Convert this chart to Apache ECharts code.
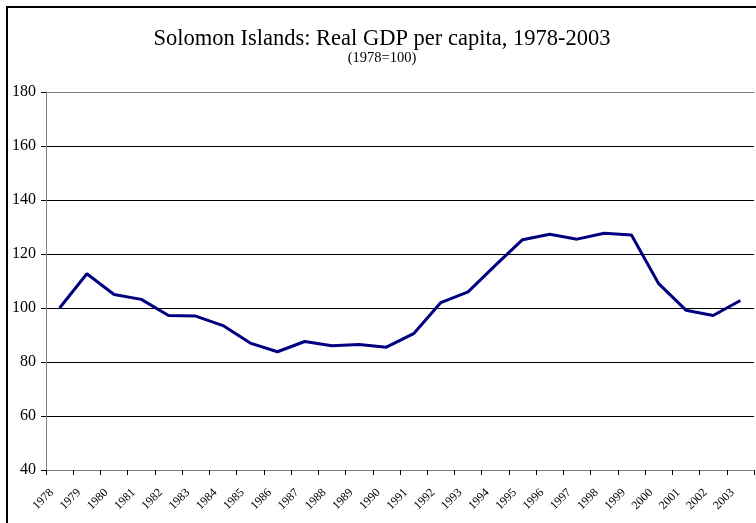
<!DOCTYPE html>
<html>
<head>
<meta charset="utf-8">
<script src="https://cdn.jsdelivr.net/npm/echarts@6/dist/echarts.min.js"></script>
<style>html,body{margin:0;padding:0;background:#fff;}#c{width:756px;height:523px;}</style>
</head>
<body>
<div id="c"></div>
<script>
var years = ['1978','1979','1980','1981','1982','1983','1984','1985','1986','1987','1988','1989','1990','1991','1992','1993','1994','1995','1996','1997','1998','1999','2000','2001','2002','2003'];
var gdpIndex = [100, 112.7, 105, 103.2, 97.2, 97, 93.5, 87, 83.8, 87.6, 86, 86.5, 85.5, 90.5, 102, 106, 115.8, 125.3, 127.3, 125.5, 127.7, 127, 109, 99.2, 97.2, 102.8];
var titleText = 'Solomon Islands: Real GDP per capita, 1978-2003';
var subtitleText = '(1978=100)';

var serif = "'Liberation Serif', 'Times New Roman', serif";
var chart = echarts.init(document.getElementById('c'), null, {renderer: 'canvas'});
chart.setOption({
  animation: false,
  backgroundColor: '#fff',
  title: {
    text: titleText,
    subtext: subtitleText,
    left: 377,
    textAlign: 'center',
    top: 23,
    itemGap: 0,
    textStyle: {fontFamily: serif, fontSize: 22.5, fontWeight: 'normal', color: '#000'},
    subtextStyle: {fontFamily: serif, fontSize: 14.5, color: '#000'}
  },
  graphic: [{
    type: 'rect', silent: true,
    shape: {x: 7, y: 7, width: 800, height: 600},
    style: {fill: 'none', stroke: '#000', lineWidth: 2}
  }],
  grid: {left: 46, right: 2, top: 92, bottom: 53, containLabel: false},
  xAxis: [{
    type: 'category',
    data: years,
    boundaryGap: true,
    axisLine: {lineStyle: {color: '#808080', width: 1}},
    axisTick: {show: true, inside: false, length: 5, lineStyle: {color: '#000'}},
    axisLabel: {rotate: 45, interval: 0, margin: 13, padding: [0, 11, 0, 0], fontFamily: serif, fontSize: 12, color: '#000'},
    splitLine: {show: false}
  }, {
    type: 'category',
    data: years,
    position: 'top',
    axisLine: {show: true, lineStyle: {color: '#808080', width: 1}},
    axisTick: {show: false},
    axisLabel: {show: false}
  }],
  yAxis: {
    type: 'value',
    min: 40, max: 180, interval: 20,
    axisLine: {show: true, lineStyle: {color: '#808080', width: 1}},
    axisTick: {show: true, inside: false, length: 5, lineStyle: {color: '#000'}},
    axisLabel: {margin: 10, fontFamily: serif, fontSize: 16, color: '#000'},
    splitLine: {show: true, lineStyle: {color: '#000', width: 1}}
  },
  series: [{
    type: 'line',
    data: gdpIndex,
    symbol: 'none',
    lineStyle: {color: '#000080', width: 3},
    z: 5
  }]
});
</script>
</body>
</html>
